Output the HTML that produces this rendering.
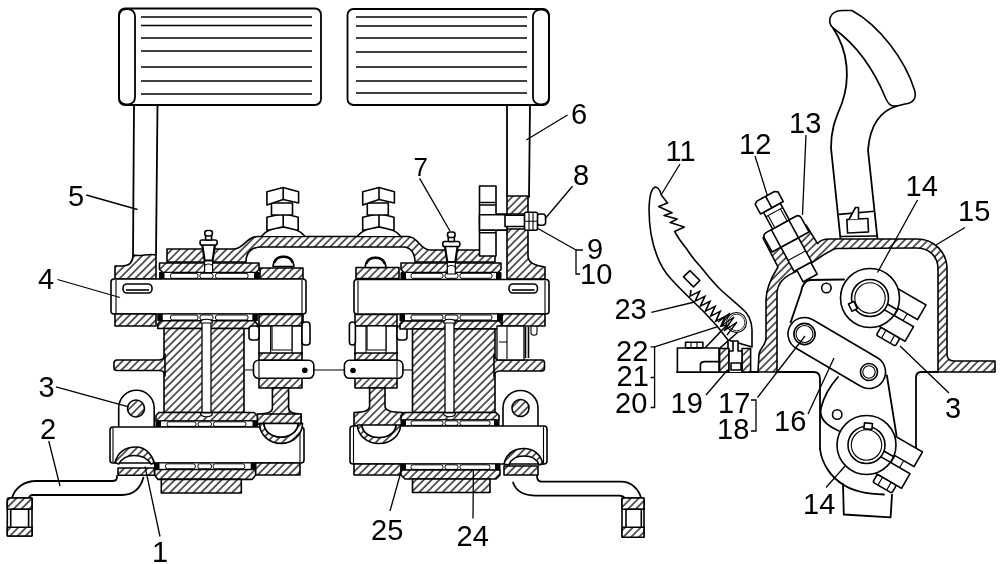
<!DOCTYPE html>
<html><head><meta charset="utf-8"><style>
html,body{margin:0;padding:0;background:#fff;}
svg{display:block;will-change:transform;}
.o{fill:none;stroke:#000;stroke-width:1.8;stroke-linejoin:round;stroke-linecap:round;}
.t{fill:none;stroke:#000;stroke-width:1.6;}
.th{fill:none;stroke:#000;stroke-width:1.1;}
.h{fill:url(#hp);stroke:#000;stroke-width:1.6;stroke-linejoin:round;}
.w{fill:#fff;stroke:#000;stroke-width:1.6;stroke-linejoin:round;}
.k{fill:#000;}
.ld{stroke:#000;stroke-width:1.3;fill:none;}
text{font-family:"Liberation Sans",sans-serif;font-size:28px;fill:#000;}
</style></head><body>
<svg width="1000" height="564" viewBox="0 0 1000 564">
<defs>
<pattern id="hp" patternUnits="userSpaceOnUse" width="5.5" height="5.5" patternTransform="rotate(45)">
<rect width="5.5" height="5.5" fill="#fff"/>
<line x1="1" y1="-1" x2="1" y2="7" stroke="#000" stroke-width="1.25"/>
</pattern>
</defs>
<rect x="119" y="8.5" width="202" height="96.5" rx="6" class="o"/>
<rect x="119" y="9.0" width="16" height="95.5" rx="7" class="o"/>
<line x1="141" y1="17" x2="312" y2="17" class="t"/>
<line x1="141" y1="25.5" x2="312" y2="25.5" class="t"/>
<line x1="141" y1="38" x2="312" y2="38" class="t"/>
<line x1="141" y1="51" x2="312" y2="51" class="t"/>
<line x1="141" y1="67" x2="312" y2="67" class="t"/>
<line x1="141" y1="81" x2="312" y2="81" class="t"/>
<line x1="141" y1="94" x2="312" y2="94" class="t"/>
<rect x="347.5" y="9" width="201.5" height="96" rx="6" class="o"/>
<rect x="533" y="9.5" width="16" height="95" rx="7" class="o"/>
<line x1="356" y1="17" x2="527" y2="17" class="t"/>
<line x1="356" y1="26" x2="527" y2="26" class="t"/>
<line x1="356" y1="38" x2="527" y2="38" class="t"/>
<line x1="356" y1="52" x2="527" y2="52" class="t"/>
<line x1="356" y1="67" x2="527" y2="67" class="t"/>
<line x1="356" y1="81" x2="527" y2="81" class="t"/>
<line x1="356" y1="93" x2="527" y2="93" class="t"/>
<path d="M134,105 L133,255 M157.5,105 L156,255" class="o"/>
<path d="M507,105 L507,196 M530,105 L529,197" class="o"/>
<path d="M133,255 C133,262 129,266 122,266 L115,266 L115,279 L156,279 L156,255 C150,253 140,257 133,255 Z" class="h"/>
<path d="M167,249 L234,249 C244,249 246,236.5 258,236.5 L408,236.5 C418,236.5 420,250 430,250 L495,250 L495,262 L415,262 C415,255 412,247 403,247 L262,247 C252,247 246,252 246,262 L167,262 Z" class="h"/>
<path d="M159.5,263 L259,263 L259,269.5 L256,272.5 L163,272.5 L159.5,269.5 Z" class="h"/>
<rect x="159.5" y="272.5" width="99.5" height="6.5" class="w" style="stroke-width:1"/>
<rect x="159.5" y="272.5" width="5" height="6.5" class="k"/>
<rect x="254" y="272.5" width="5" height="6.5" class="k"/>
<rect x="170.5" y="273.3" width="27.5" height="5" rx="2" class="w" style="stroke-width:1"/>
<rect x="200" y="273.3" width="13" height="5" rx="2" class="w" style="stroke-width:1"/>
<rect x="215.5" y="273.3" width="32.5" height="5" rx="2" class="w" style="stroke-width:1"/>
<rect x="260" y="268" width="43" height="11" class="h"/>
<rect x="111" y="279" width="195" height="35" rx="3" class="w"/>
<path d="M116,280 L116,313 M302,280 L302,313" class="th"/>
<rect x="123" y="284" width="29" height="9" rx="4" class="w"/>
<path d="M126,290 L149,290" class="t"/>
<rect x="115" y="314" width="41" height="12" class="h"/>
<rect x="260" y="314" width="43" height="12" class="h"/>
<rect x="157.8" y="314" width="99.5" height="6.800000000000011" class="w" style="stroke-width:1"/>
<rect x="157.8" y="314" width="5" height="6.800000000000011" class="k"/>
<rect x="252.3" y="314" width="5" height="6.800000000000011" class="k"/>
<rect x="170.5" y="315" width="27.5" height="5" rx="2" class="w" style="stroke-width:1"/>
<rect x="200" y="315" width="13" height="5" rx="2" class="w" style="stroke-width:1"/>
<rect x="215.5" y="315" width="32.5" height="5" rx="2" class="w" style="stroke-width:1"/>
<path d="M161,320.8 L254,320.8 L257.3,324 L257.3,328.5 L157.8,328.5 L157.8,324 Z" class="h"/>
<rect x="164" y="328.5" width="80" height="84" class="h"/>
<rect x="202" y="322" width="9" height="96" class="w" style="stroke-width:1.3"/>
<path d="M165,354 C165,358 163,360 159,360 L117,360 C115,360 114,361 114,363 L114,368 C114,369.5 115,370.5 117,370.5 L159,370.5 C163,370.5 165,372 165,376 Z" class="h"/>
<path d="M118.7,427 L118.7,408 A17.75,17.75 0 0 1 154.2,408 L154.2,427" class="w"/>
<circle cx="136" cy="408.5" r="8.5" class="h"/>
<path d="M159,412.5 L254,412.5 L257.5,415.5 L257.5,421 L156,421 L156,415.5 Z" class="h"/>
<rect x="156" y="421" width="101.5" height="6" class="w" style="stroke-width:1"/>
<rect x="156" y="421" width="5" height="6" class="k"/>
<rect x="252.5" y="421" width="5" height="6" class="k"/>
<rect x="167" y="421.8" width="29" height="4.6" rx="2" class="w" style="stroke-width:1"/>
<rect x="198" y="421.8" width="13.5" height="4.6" rx="2" class="w" style="stroke-width:1"/>
<rect x="213.5" y="421.8" width="32.5" height="4.6" rx="2" class="w" style="stroke-width:1"/>
<rect x="110" y="427" width="194" height="36" rx="3" class="w"/>
<path d="M113,428 L113,462 M300,428 L300,462" class="th"/>
<rect x="154.5" y="463" width="101.19999999999999" height="6.5" class="w" style="stroke-width:1"/>
<rect x="154.5" y="463" width="5" height="6.5" class="k"/>
<rect x="250.7" y="463" width="5" height="6.5" class="k"/>
<rect x="165.5" y="463.8" width="29.80000000000001" height="5" rx="2" class="w" style="stroke-width:1"/>
<rect x="197.9" y="463.8" width="13.599999999999994" height="5" rx="2" class="w" style="stroke-width:1"/>
<rect x="213.2" y="463.8" width="31.5" height="5" rx="2" class="w" style="stroke-width:1"/>
<path d="M154.5,469.5 L255.7,469.5 L255.7,475 L252,479.4 L158,479.4 L154.5,475 Z" class="h"/>
<rect x="255.7" y="463" width="44.3" height="12" class="h"/>
<rect x="161.3" y="479.4" width="80" height="13.6" class="h"/>
<path d="M118,468 L118,475.2 L154.5,475.2 L154.5,468 Z" class="h"/>
<path d="M115,462.5 C118,452 126,447 136,447 C146,447 152,455 154.5,463.2 L151,464 C148,459 142,455.5 134,455.5 C126,455.5 121,460 118.7,464 Z" class="h"/>
<path d="M143.4,477.6 C140,490 132,495 122,495 L33,495 C30,495 29,497 29,498 M117,476 C117,480 116,481 112,481 L36,481 C24,481 15,488 12,498" class="o"/>
<rect x="7.3" y="498" width="24.7" height="38" rx="1.5" class="w"/>
<path d="M7.3,509.3 L7.3,500.5 L10,498 L32,498 L32,509.3 Z" class="h"/>
<rect x="7.3" y="527.3" width="24.7" height="8.7" class="h"/>
<rect x="10.7" y="509.3" width="17.9" height="18" class="w"/>
<rect x="259" y="314.4" width="43" height="11.6" class="h"/>
<rect x="259" y="326" width="43" height="28" class="w"/>
<path d="M270.6,326 L270.6,353 M292,326 L292,353" class="th"/>
<rect x="272" y="326" width="20" height="24" class="w" style="stroke-width:1.2"/>
<rect x="302" y="322" width="8" height="23" rx="3" class="w"/>
<rect x="249" y="326" width="10" height="14" rx="3" class="w"/>
<rect x="259" y="353" width="43" height="7.3" class="h"/>
<rect x="259" y="378" width="43" height="10" class="h"/>
<path d="M272.4,388 L272.4,408 C272.4,412 268,414 258,414 L258,424 L301,424 L301,414 C292,414 288.6,412 288.6,408 L288.6,388 Z" class="h"/>
<rect x="253.5" y="360.3" width="60.3" height="18" rx="5" class="w"/>
<path d="M259,361 L259,377.5" class="th"/>
<circle cx="304.8" cy="370.2" r="2.8" class="k"/>
<path d="M313.8,370 L344.4,370 M244.5,370 L253.5,370" class="th"/>
<rect x="257.5" y="414" width="43.5" height="10" class="h"/>
<rect x="355" y="314.4" width="42" height="11.6" class="h"/>
<rect x="355" y="326" width="42" height="28" class="w"/>
<path d="M366,326 L366,353 M386,326 L386,353" class="th"/>
<rect x="367" y="326" width="19" height="24" class="w" style="stroke-width:1.2"/>
<rect x="349.4" y="322" width="6" height="23" rx="3" class="w"/>
<rect x="397" y="326" width="10" height="14" rx="3" class="w"/>
<rect x="355" y="353" width="42" height="7.3" class="h"/>
<rect x="355" y="378" width="42" height="10" class="h"/>
<path d="M369.6,388 L369.6,406 C369.6,410 366,412.5 354,412.5 L354,426 L402.5,426 L402.5,412.5 C390,412.5 385,410 385,406 L385,388 Z" class="h"/>
<rect x="344.4" y="360.3" width="58.5" height="18" rx="5" class="w"/>
<path d="M397,361 L397,377.5" class="th"/>
<circle cx="353" cy="370.5" r="2.8" class="k"/>
<path d="M402.9,370 L412.5,370" class="th"/>
<path d="M507,196 L507,279 L545,279 L545,267 C537,266 528,264 528,256 L528,196 Z" class="h"/>
<rect x="496" y="214" width="30" height="15" class="w"/>
<rect x="479.5" y="186" width="16.5" height="70" class="w"/>
<rect x="479.5" y="214.7" width="27.5" height="15.5" class="w"/>
<path d="M480,202.5 L496,202.5 M480,205 L496,205 M480,230.2 L507,230.2 M480,232.8 L496,232.8" class="t"/>
<rect x="505" y="215.3" width="21" height="11.2" class="w"/>
<rect x="537" y="214" width="8.6" height="11.2" rx="3" class="w"/>
<rect x="524.5" y="212.2" width="13" height="18" rx="1.5" class="w"/>
<path d="M529,212.2 L529,230.2 M533,212.2 L533,230.2 M524.5,221.2 L537.5,221.2" class="th"/>
<path d="M401,263 L501,263 L501,269.5 L498,272.5 L404,272.5 L401,269.5 Z" class="h"/>
<rect x="401" y="272.5" width="100" height="7.0" class="w" style="stroke-width:1"/>
<rect x="401" y="272.5" width="5" height="7.0" class="k"/>
<rect x="496" y="272.5" width="5" height="7.0" class="k"/>
<rect x="411" y="273.3" width="32" height="5" rx="2" class="w" style="stroke-width:1"/>
<rect x="445" y="273.3" width="13" height="5" rx="2" class="w" style="stroke-width:1"/>
<rect x="460" y="273.3" width="32" height="5" rx="2" class="w" style="stroke-width:1"/>
<rect x="356" y="267.5" width="43" height="11" class="h"/>
<rect x="354" y="279.5" width="195" height="34.5" rx="3" class="w"/>
<path d="M358,280.5 L358,313 M545,280.5 L545,313" class="th"/>
<rect x="509" y="284" width="28.5" height="9" rx="4" class="w"/>
<path d="M512,290 L534.5,290" class="t"/>
<rect x="502" y="314" width="43" height="12" class="h"/>
<rect x="400" y="314" width="102" height="7" class="w" style="stroke-width:1"/>
<rect x="400" y="314" width="5" height="7" class="k"/>
<rect x="497" y="314" width="5" height="7" class="k"/>
<rect x="411" y="315" width="32" height="5" rx="2" class="w" style="stroke-width:1"/>
<rect x="445" y="315" width="13" height="5" rx="2" class="w" style="stroke-width:1"/>
<rect x="460" y="315" width="32" height="5" rx="2" class="w" style="stroke-width:1"/>
<path d="M403,321 L499,321 L502,324 L502,329 L400,329 L400,324 Z" class="h"/>
<rect x="412.5" y="329" width="82.5" height="83.5" class="h"/>
<rect x="445" y="322" width="9" height="96" class="w" style="stroke-width:1.3"/>
<path d="M494,354 C494,358 496,360 500,360 L542,360 C544,360 544.5,361 544.5,363 L544.5,368 C544.5,370 544,371 542,371 L500,371 C496,371 494,373 494,377 Z" class="h"/>
<rect x="497" y="326" width="27" height="34" class="w" style="stroke-width:1.3"/>
<path d="M507,326 L507,359 M499,342 L507,342" class="th"/>
<path d="M525.5,327 L525.5,358 M528.5,327 L528.5,358" class="t"/>
<path d="M531,326 L531,333 C531,336 537,336 537,333 L537,326" class="th"/>
<path d="M503,426 L503,408 A17.5,17.5 0 0 1 538,408 L538,426" class="w"/>
<circle cx="520.5" cy="408" r="8.5" class="h"/>
<path d="M404,412.5 L496,412.5 L499,415.5 L499,420 L401,420 L401,415.5 Z" class="h"/>
<rect x="401" y="420" width="98" height="6" class="w" style="stroke-width:1"/>
<rect x="401" y="420" width="5" height="6" class="k"/>
<rect x="494" y="420" width="5" height="6" class="k"/>
<rect x="411" y="420.8" width="32" height="4.6" rx="2" class="w" style="stroke-width:1"/>
<rect x="445" y="420.8" width="13" height="4.6" rx="2" class="w" style="stroke-width:1"/>
<rect x="460" y="420.8" width="30" height="4.6" rx="2" class="w" style="stroke-width:1"/>
<rect x="350" y="426" width="197" height="38" rx="3" class="w"/>
<path d="M353.5,427 L353.5,463 M543.5,427 L543.5,463" class="th"/>
<rect x="354" y="464" width="47" height="11" class="h"/>
<rect x="401" y="464" width="99" height="6" class="w" style="stroke-width:1"/>
<rect x="401" y="464" width="5" height="6" class="k"/>
<rect x="495" y="464" width="5" height="6" class="k"/>
<rect x="411" y="464.8" width="32" height="4.6" rx="2" class="w" style="stroke-width:1"/>
<rect x="445" y="464.8" width="13" height="4.6" rx="2" class="w" style="stroke-width:1"/>
<rect x="460" y="464.8" width="30" height="4.6" rx="2" class="w" style="stroke-width:1"/>
<path d="M401,470 L500,470 L500,475 L496,479 L405,479 L401,475 Z" class="h"/>
<rect x="412.5" y="479" width="77.5" height="13.5" class="h"/>
<path d="M504,466 L504,475 L538,475 L538,466 Z" class="h"/>
<path d="M504,464 C506,454 514,448.5 524,448.5 C534,448.5 541,455 543,464 L539,465 C537,459 532,456 524,456 C516,456 511,459 509,465 Z" class="h"/>
<path d="M513,482.5 C516,491 524,495.6 536,495.6 L619,495.6 C622,495.6 624,496.5 625.3,498.6 M537,476 C537,479 538,481.7 542,481.7 L621,481.7 C632,481.7 639,490 641.3,498.6" class="o"/>
<rect x="622" y="498" width="22" height="39.2" rx="1.5" class="w"/>
<rect x="622" y="498" width="22" height="11.3" class="h"/>
<rect x="622" y="527.3" width="22" height="9.9" class="h"/>
<rect x="626" y="509.3" width="15.3" height="18" class="w"/>
<path d="M259.5,423.4 A21.5,20 0 0 0 302.5,423.4 L298,423.4 A17,13.6 0 0 1 264,423.4 Z" class="h"/>
<path d="M264,423.4 A17,13.6 0 0 0 298,423.4 Z" class="w"/>
<path d="M357.5,425 A21.5,18.5 0 0 0 400.5,425 L396,425 A17,12.5 0 0 1 362,425 Z" class="h"/>
<path d="M362,425 A17,12.5 0 0 0 396,425 Z" class="w"/>
<path d="M200.5,323 C200.5,318 212.5,318 212.5,323 Z" class="w" style="stroke-width:1.2"/>
<path d="M200.5,413 C200.5,418 212.5,418 212.5,413 Z" class="w" style="stroke-width:1.2"/>
<path d="M443.5,323 C443.5,318 455.5,318 455.5,323 Z" class="w" style="stroke-width:1.2"/>
<path d="M443.5,413 C443.5,418 455.5,418 455.5,413 Z" class="w" style="stroke-width:1.2"/>
<path d="M261.7,236 C268.2,229 276.2,227.3 283.2,227.3 C290.2,227.3 298.2,229 304.7,236" class="w"/>
<path d="M266.9,217.2 L283.2,213.5 L298.2,217.2 L298.2,230.5 L283.2,226.8 L266.9,230.5 Z" class="w"/>
<path d="M283.2,213.5 L283.2,226.8" class="t"/>
<rect x="271.5" y="203" width="21" height="12" class="w"/>
<path d="M266.9,191.7 L283.2,187.4 L298.59999999999997,191.7 L298.59999999999997,203 L283.2,199.5 L266.9,205 Z" class="w"/>
<path d="M283.2,187.4 L283.2,199.5" class="t"/>
<path d="M357.5,236 C364,229 372,227.3 379,227.3 C386,227.3 394,229 400.5,236" class="w"/>
<path d="M362.7,217.2 L379,213.5 L394,217.2 L394,230.5 L379,226.8 L362.7,230.5 Z" class="w"/>
<path d="M379,213.5 L379,226.8" class="t"/>
<rect x="367.3" y="203" width="21" height="12" class="w"/>
<path d="M362.7,191.7 L379,187.4 L394.4,191.7 L394.4,203 L379,199.5 L362.7,205 Z" class="w"/>
<path d="M379,187.4 L379,199.5" class="t"/>
<rect x="204.6" y="258.5" width="8" height="14" class="w" style="stroke-width:1.2"/>
<path d="M204.6,265.5 C206.6,263.5 210.6,263.5 212.6,265.5" class="th"/>
<path d="M202.2,244.5 L215.0,244.5 L212.6,260.5 L204.6,260.5 Z" class="w" style="stroke-width:2.2"/>
<rect x="200.1" y="240.0" width="17" height="5" rx="1.8" class="w"/>
<rect x="205.6" y="235.3" width="6" height="4.7" class="w"/>
<rect x="204.79999999999998" y="230.5" width="7.6" height="5.5" rx="2.5" class="w"/>
<rect x="447.3" y="260" width="8" height="14" class="w" style="stroke-width:1.2"/>
<path d="M447.3,267 C449.3,265 453.3,265 455.3,267" class="th"/>
<path d="M444.90000000000003,246 L457.7,246 L455.3,262 L447.3,262 Z" class="w" style="stroke-width:2.2"/>
<rect x="442.8" y="241.5" width="17" height="5" rx="1.8" class="w"/>
<rect x="448.3" y="236.8" width="6" height="4.7" class="w"/>
<rect x="447.5" y="232" width="7.6" height="5.5" rx="2.5" class="w"/>
<path d="M273,266.5 C273.5,260 278,256.5 283.5,256.5 C289,256.5 293.5,260 294,266.5 Z" class="w"/>
<path d="M274.5,262 C276,258.5 279.5,256.8 283.5,256.8 C287.5,256.8 291,258.5 292.5,262" class="o" style="stroke-width:2.6"/>
<path d="M365,267.5 C365.5,261 370,257.5 375.5,257.5 C381,257.5 385.5,261 386,267.5 Z" class="w"/>
<path d="M366.5,263 C368,259.5 371.5,257.8 375.5,257.8 C379.5,257.8 383,259.5 384.5,263" class="o" style="stroke-width:2.6"/>
<path d="M833,28 C827,22 829,11 842,10.5 L852,10.5 C880,26 905,60 914.5,90 C917,99 913,103 905,104 L897,106 C890,107 888,103 886,99 C875,72 857,45 833,28 Z" class="w"/>
<path d="M833,28 C849,52 850,80 842,103 C836,118 831,128 831,148 L840.5,239" class="o"/>
<path d="M897,106 C880,111 870,125 868,150 L877.5,239" class="o"/>
<path d="M839,214.4 L874.4,211.2 M840,236.5 L877,236" class="t"/>
<rect x="847.2" y="219" width="21" height="13.5" class="w" transform="rotate(-3 858 226)"/>
<path d="M849,219.5 L855.5,207.5 L858.5,207.5 L858.5,219" class="w"/>
<path d="M758,372 L759,354 C760,348 766,345 766,338 L766,300 C766,290 771,278 778,267 L763,238 L806,225 L817.6,243.6 C820,240 825,239 830,239 L917,239 C934,239 947,252 947,269 L947,354 C947,358 949,361 954,361 L995,361 L995,372 L938,372 L938,269 C938,256 929,248 916,248 L836,248.5 C830,250 822,256 814.5,261 C805,267 795,272 789.7,274.6 C783,278 778,283 777,292 L777,372 Z" class="h"/>
<path d="M677,372 L758,372 M777,372 L814,372 C818,372 820,374 820,379 L820,449 M938,372 L921,372 C918,372 916,374 916,378 L916,449" class="o"/>
<g transform="translate(769,202.5) rotate(-28.6)">
<rect x="-8" y="72.5" width="16" height="13.5" class="w"/>
<rect x="-11" y="45" width="20" height="27.5" class="w"/>
<path d="M-11,60 L9,60" class="th"/>
<path d="M-21,45 L-21,29 C-21,26 -19,25 -16,25 L17,25 C19,25 21,26 21,29 L21,45 Z" class="w"/>
<path d="M-11,25 L-11,45 M9,25 L9,45" class="t"/>
<rect x="-9.5" y="6" width="19" height="19" class="w"/>
<path d="M-9.5,11 L9.5,11 M-7,11 L-7,25 M7,11 L7,25" class="th"/>
<path d="M-13,-5 L-10,-7 L10,-7 L13,-5 L13,6 L-13,6 Z" class="w"/>
<path d="M0,-7 L0,6" class="t"/>
</g>
<path d="M655,187 C648,190 648,214 651,234 C655,256 662,270 672,280 C682,291 694,302 705,313 L717,326 L728,340 L752,347 L752,330 C752,322 749,314 741,307.6 L722,291 C715,285 708,276 700,266 C694,260 690,254 686,248 C681,242 677,236 674.6,231.4 L684.3,227 L670.1,222.6 L677.2,219 L664,215.5 L672,212.8 L658.6,206.6 L667.5,203 L661.3,195 C660,190 658,187 655,187 Z" class="w"/>
<circle cx="736.5" cy="322.5" r="10" class="w" style="stroke-width:1.1"/>
<circle cx="736.5" cy="322.5" r="8.3" class="th" style="stroke-width:0.8"/>
<polyline points="691.0,290.0 690.1,296.1 699.6,291.4 695.2,301.1 704.8,296.4 700.4,306.1 709.9,301.4 705.5,311.1 715.1,306.4 710.7,316.1 720.2,311.4 715.8,321.1 725.3,316.4 720.9,326.1 727.0,325.0" class="t"/>
<polyline points="718,322 730,313 721,326 734,317 724,331 737,322 727,335" class="th" style="stroke-width:1.3"/>
<rect x="-6" y="-4.5" width="14" height="9" class="w" transform="translate(691,278) rotate(45)"/>
<path d="M705,348 L727,325 M720,348 L738,332 M728,340 L728,372" class="t"/>
<rect x="677.4" y="348" width="41.6" height="24" class="w"/>
<path d="M700.4,372 L700.4,365 C700.4,362 702,361.6 705,361.6 L719,361.6" class="t"/>
<rect x="685.5" y="342.3" width="17.4" height="5.6" class="w"/>
<path d="M691,342.3 L691,348 M697,342.3 L697,348" class="th"/>
<rect x="719.6" y="348.5" width="9.4" height="23.5" class="h"/>
<rect x="742" y="348.5" width="8.6" height="23.5" class="h"/>
<path d="M729,372 L729,351 L733,351 L733,341 L738,341 L738,351 L742,351 L742,372" class="w"/>
<rect x="731" y="363" width="10" height="7" class="w"/>
<path d="M844,279.5 L810,280 C804,281 802,286 801,292 L790.6,322.4" class="o"/>
<circle cx="826.4" cy="288" r="4.7" class="w"/>
<rect x="-16.5" y="-16.5" width="107.9" height="33" rx="16.5" class="w" transform="translate(804.5,334) rotate(30.5)"/>
<circle cx="804.5" cy="334" r="10.6" class="w"/>
<circle cx="804.5" cy="334" r="8.5" class="th"/>
<circle cx="869" cy="372" r="8.5" class="w"/>
<circle cx="869" cy="372" r="6.2" class="th"/>
<path d="M886.9,375.5 L896.6,436 M838,377 C830,386 824,396 821,408 C819,416 823,424 839,431" class="o"/>
<path d="M820,449 C822,465 832,478 843.8,485 C853,491 866,494 884,494.5" class="o"/>
<circle cx="837.2" cy="414.5" r="4.7" class="w"/>
<path d="M843,484 L843.8,514.5 L890.6,517.3 L892,494.6" class="o"/>
<g transform="translate(870,298) rotate(30)">
<rect x="18" y="-22" width="34" height="17" class="w"/>
<rect x="18" y="3" width="34" height="17" class="w"/>
<rect x="24" y="20" width="22" height="9" rx="2" class="w"/>
<path d="M30,20 L30,29 M40,20 L40,29 M30,-5 L30,3 M40,-5 L40,3" class="th"/>
<path d="M16,-3.5 L18,-3.5 M16,3 L18,3" class="t"/>
</g>
<circle cx="870" cy="298" r="29.5" class="w"/>
<g transform="translate(870,298) rotate(30)">
<path d="M15,-3.5 L29,-3.5 M15,3 L29,3" class="t"/>
</g>
<circle cx="870" cy="298" r="18.5" class="w"/>
<circle cx="870" cy="298" r="15.2" class="th"/>
<rect x="-3" y="-4" width="6" height="8" class="w" transform="translate(852.9,306.3) rotate(154)"/>
<g transform="translate(866.5,445) rotate(30)">
<rect x="18" y="-22" width="34" height="17" class="w"/>
<rect x="18" y="3" width="34" height="17" class="w"/>
<rect x="24" y="20" width="22" height="9" rx="2" class="w"/>
<path d="M30,20 L30,29 M40,20 L40,29 M30,-5 L30,3 M40,-5 L40,3" class="th"/>
<path d="M16,-3.5 L18,-3.5 M16,3 L18,3" class="t"/>
</g>
<circle cx="866.5" cy="445" r="29.5" class="w"/>
<g transform="translate(866.5,445) rotate(30)">
<path d="M15,-3.5 L29,-3.5 M15,3 L29,3" class="t"/>
</g>
<circle cx="866.5" cy="445" r="18.5" class="w"/>
<circle cx="866.5" cy="445" r="15.2" class="th"/>
<rect x="-3" y="-4" width="6" height="8" class="w" transform="translate(868.2,426.1) rotate(-85)"/>
<text x="152" y="561.5" style="font-size:29px">1</text>
<text x="40" y="439" style="font-size:29px">2</text>
<text x="38.6" y="397" style="font-size:29px">3</text>
<text x="38" y="289" style="font-size:29px">4</text>
<text x="68" y="206" style="font-size:29px">5</text>
<text x="571" y="124" style="font-size:29px">6</text>
<text x="413.4" y="176.4" style="font-size:26px">7</text>
<text x="573" y="185" style="font-size:29px">8</text>
<text x="587" y="259" style="font-size:29px">9</text>
<text x="580" y="284" style="font-size:29px">10</text>
<text x="665.5" y="161" style="font-size:29px">11</text>
<text x="739" y="154" style="font-size:29px">12</text>
<text x="789" y="132.5" style="font-size:29px">13</text>
<text x="905.5" y="196" style="font-size:29px">14</text>
<text x="958" y="221" style="font-size:29px">15</text>
<text x="774" y="431" style="font-size:29px">16</text>
<text x="718" y="412.5" style="font-size:29px">17</text>
<text x="717" y="439" style="font-size:29px">18</text>
<text x="670.5" y="412.5" style="font-size:29px">19</text>
<text x="615" y="412.5" style="font-size:29px">20</text>
<text x="616.5" y="386" style="font-size:29px">21</text>
<text x="616" y="361.2" style="font-size:29px">22</text>
<text x="614.4" y="318.5" style="font-size:29px">23</text>
<text x="456.5" y="545.5" style="font-size:29px">24</text>
<text x="371" y="539.5" style="font-size:29px">25</text>
<text x="803" y="514" style="font-size:29px">14</text>
<text x="945" y="417.5" style="font-size:29px">3</text>
<line x1="160" y1="536.5" x2="145" y2="466.5" class="ld"/>
<line x1="48.75" y1="441" x2="60" y2="486" class="ld"/>
<line x1="56" y1="386.8" x2="127.8" y2="406.7" class="ld"/>
<line x1="57.5" y1="279.5" x2="120" y2="297.5" class="ld"/>
<line x1="86.25" y1="195" x2="137.5" y2="209.5" class="ld"/>
<line x1="567.5" y1="115" x2="526.25" y2="140" class="ld"/>
<line x1="419.6" y1="178.4" x2="450" y2="231" class="ld"/>
<line x1="572.5" y1="186.25" x2="545" y2="218.75" class="ld"/>
<line x1="537" y1="228" x2="576" y2="250" class="ld"/>
<line x1="680" y1="164" x2="661" y2="195" class="ld"/>
<line x1="755" y1="156" x2="767.5" y2="196" class="ld"/>
<line x1="806" y1="135" x2="802.5" y2="215" class="ld"/>
<line x1="917.5" y1="200" x2="877.5" y2="272.5" class="ld"/>
<line x1="965" y1="227.5" x2="936" y2="245" class="ld"/>
<line x1="808" y1="414" x2="834" y2="358" class="ld"/>
<line x1="757.5" y1="397.5" x2="805" y2="336" class="ld"/>
<line x1="706" y1="395" x2="727.5" y2="370" class="ld"/>
<line x1="654.6" y1="346.8" x2="717" y2="326.8" class="ld"/>
<line x1="651.4" y1="312.4" x2="694.6" y2="302" class="ld"/>
<line x1="473" y1="518.5" x2="473.4" y2="469" class="ld"/>
<line x1="390" y1="511" x2="400.5" y2="473.5" class="ld"/>
<line x1="826" y1="487.5" x2="846" y2="465" class="ld"/>
<line x1="900" y1="346" x2="949" y2="393" class="ld"/>
<path d="M583,250 L576,250 L576,274 L580,274" class="ld"/>
<path d="M650.6,346.8 L654.6,346.8 L654.6,407.5 L650.6,407.5 M650.6,377.5 L654.6,377.5" class="ld"/>
<path d="M751,400 L756,400 L756,431 L751,431" class="ld"/>
</svg>
</body></html>
